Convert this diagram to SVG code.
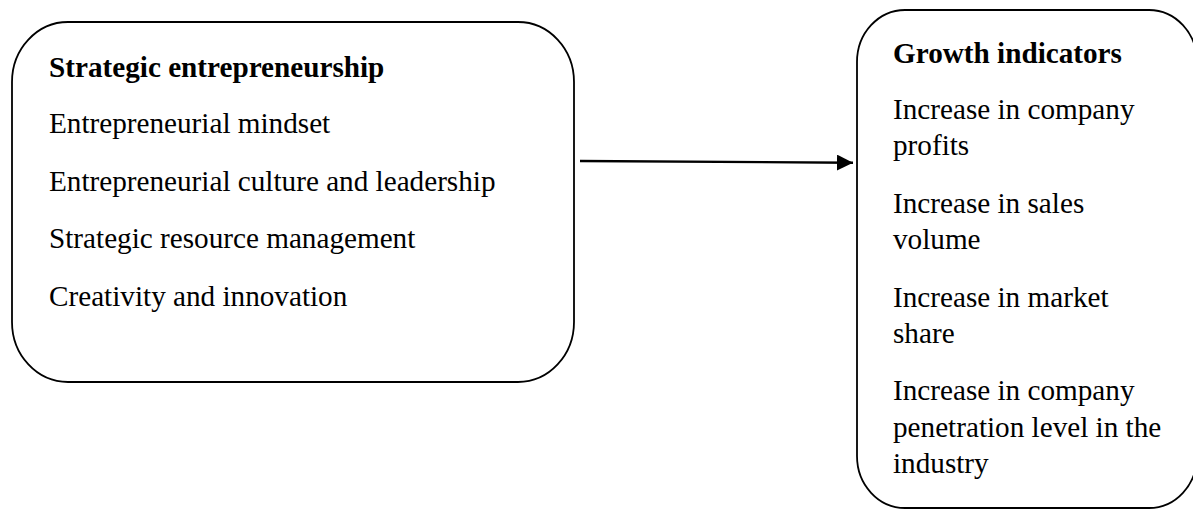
<svg xmlns="http://www.w3.org/2000/svg" width="1193" height="510" viewBox="0 0 1193 510">
<style>
.box{fill:#fff;stroke:#000;stroke-width:1.8}
.t{font-family:"Liberation Serif","Times New Roman",serif;font-size:29.2px;fill:#000}
.b{font-weight:bold}
.conn{stroke:#000;stroke-width:2.4;fill:none}
</style>
<defs>
<marker id="arr" markerUnits="userSpaceOnUse" markerWidth="17" markerHeight="16" refX="16" refY="8" orient="auto">
<path d="M0,0 L16,8 L0,16 Z" fill="#000"/>
</marker>
</defs>
<rect width="1193" height="510" fill="#fff"/>
<g id="strategic">
<rect class="box" x="12" y="22" width="562" height="360" rx="56" ry="60"/>
<text class="t b" x="49" y="77">Strategic entrepreneurship</text>
<text class="t" x="49" y="133">Entrepreneurial mindset</text>
<text class="t" x="49" y="191">Entrepreneurial culture and leadership</text>
<text class="t" x="49" y="248">Strategic resource management</text>
<text class="t" x="49" y="306">Creativity and innovation</text>
</g>
<g id="growth">
<rect class="box" x="857" y="10" width="340" height="498" rx="48" ry="52"/>
<text class="t b" x="893" y="63">Growth indicators</text>
<text class="t" x="893" y="119">Increase in company</text>
<text class="t" x="893" y="155">profits</text>
<text class="t" x="893" y="213">Increase in sales</text>
<text class="t" x="893" y="249">volume</text>
<text class="t" x="893" y="307">Increase in market</text>
<text class="t" x="893" y="343">share</text>
<text class="t" x="893" y="400">Increase in company</text>
<text class="t" x="893" y="437">penetration level in the</text>
<text class="t" x="893" y="473">industry</text>
</g>
<g id="connectors">
<line class="conn" x1="580" y1="161" x2="853" y2="162.7" marker-end="url(#arr)"/>
</g>
</svg>
